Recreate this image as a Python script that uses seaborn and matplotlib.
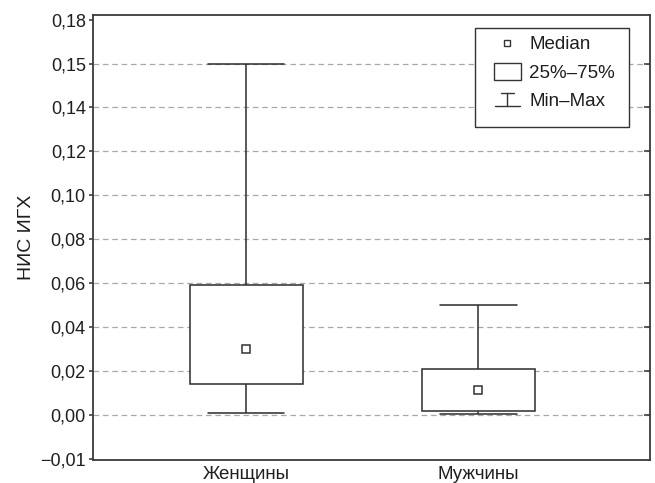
import numpy as np
import pandas as pd
import matplotlib
matplotlib.use("Agg")
import matplotlib.pyplot as plt
import seaborn as sns
from matplotlib.lines import Line2D
from matplotlib.patches import Rectangle
from matplotlib.legend_handler import HandlerBase

# Five-number summaries per group
groups = ["Женщины", "Мужчины"]
v_min = [0.001, 0.0005]
q1 = [0.014, 0.002]
median = [0.030, 0.0114]
q3 = [0.059, 0.021]
v_max = [0.150, 0.050]

# Y axis ticks (the axis is stretched between the labelled values)
tick_values = [-0.01, 0.00, 0.02, 0.04, 0.06, 0.08, 0.10, 0.12, 0.14, 0.15, 0.18]
tick_labels = ["\u22120,01", "0,00", "0,02", "0,04", "0,06", "0,08",
               "0,10", "0,12", "0,14", "0,15", "0,18"]
y_label = "НИС ИГХ"
legend_labels = ["Median", "25%\u201375%", "Min\u2013Max"]

INK = "#333333"
TEXT = "#1e1e1e"
GRID = "#a8a8a8"

sns.set_theme(style="white")
plt.rcParams["font.family"] = ["Liberation Sans", "DejaVu Sans"]

# piecewise-linear axis as printed
_val = [-1.0, -0.01, 0.00, 0.14, 0.15, 0.18, 1.0]
_pos = [-1.01, -0.02, 0.00, 0.14, 0.16, 0.18, 1.0]


def fwd(v):
    return np.interp(v, _val, _pos)


def inv(p):
    return np.interp(p, _pos, _val)


rows = []
for i, g in enumerate(groups):
    for v in (v_min[i], q1[i], median[i], q3[i], v_max[i]):
        rows.append({"group": g, "value": v})
df = pd.DataFrame(rows)
med_df = pd.DataFrame({"group": groups, "value": median})

fig = plt.figure(figsize=(6.55, 4.83), dpi=100)
ax = fig.add_axes([93 / 655, 23 / 483, 557 / 655, 445 / 483])

sns.boxplot(data=df, x="group", y="value", order=groups, ax=ax,
            whis=(0, 100), width=0.487, color="white", saturation=1,
            linecolor=INK, linewidth=1.15, capwidths=0.33,
            medianprops={"linewidth": 0}, zorder=2)
sns.pointplot(data=med_df, x="group", y="value", order=groups, ax=ax,
              linestyle="none", marker="s", markersize=5.5,
              markerfacecolor="white", markeredgecolor=INK,
              markeredgewidth=1.1, color=INK, errorbar=None, zorder=4)

ax.set_yscale("function", functions=(fwd, inv))
ylim = (-0.01045, 0.1821)
ax.set_ylim(*ylim)
ax.set_xlim(-0.66, 1.74)
ax.set_yticks(tick_values)
ax.set_yticklabels(tick_labels)
ax.set_xlabel("")
ax.set_ylabel(y_label, fontsize=14, color=TEXT)
ax.yaxis.set_label_coords(-0.104, 0.5)

for v in tick_values[1:-1]:
    ax.axhline(v, color=GRID, linewidth=0.9, linestyle=(0, (4.5, 3)), zorder=0)

ax.tick_params(axis="y", which="major", left=True, right=False, direction="out",
               length=3, width=1.1, color=INK, pad=2.2, labelsize=13,
               labelcolor=TEXT)
ax.tick_params(axis="x", length=0, pad=4, labelsize=13.5, labelcolor=TEXT)
for s in ax.spines.values():
    s.set_visible(True)
    s.set_color("#3a3a3a")
    s.set_linewidth(1.3)

# inward ticks on the right edge
ax2 = ax.twinx()
ax2.set_yscale("function", functions=(fwd, inv))
ax2.set_ylim(*ylim)
ax2.set_yticks(tick_values[1:-1])
ax2.tick_params(axis="y", direction="in", length=4.3, width=1.1, color=INK,
                labelright=False)
for s in ax2.spines.values():
    s.set_visible(False)

# legend
PX = 0.72  # points per pixel


class MedianHandler(HandlerBase):
    def create_artists(self, legend, orig, xd, yd, w, h, fs, trans):
        m = Line2D([w - 13.5 * PX], [h / 2], marker="s", markersize=4.3,
                   markerfacecolor="white", markeredgecolor=INK,
                   markeredgewidth=1.0, linestyle="none", transform=trans)
        return [m]


class BoxHandler(HandlerBase):
    def create_artists(self, legend, orig, xd, yd, w, h, fs, trans):
        bw, bh = 27 * PX, 17 * PX
        cx = w - 13.5 * PX
        r = Rectangle((cx - bw / 2, h / 2 - bh / 2), bw, bh, facecolor="white",
                      edgecolor=INK, linewidth=1.0, transform=trans)
        return [r]


class RangeHandler(HandlerBase):
    def create_artists(self, legend, orig, xd, yd, w, h, fs, trans):
        cx = w - 13.5 * PX
        half = 6.5 * PX
        lo, hi = h / 2 - half, h / 2 + half
        bot = Line2D([cx - 12 * PX, cx + 12 * PX], [lo, lo], color=INK,
                     linewidth=1.0, transform=trans)
        top = Line2D([cx - 6.5 * PX, cx + 6.5 * PX], [hi, hi], color=INK,
                     linewidth=1.0, transform=trans)
        stem = Line2D([cx, cx], [lo, hi], color=INK, linewidth=1.0,
                      transform=trans)
        return [bot, top, stem]


class _H:
    pass


h_med, h_box, h_rng = _H(), _H(), _H()
fx0, fx1 = (475 - 93) / 557, (629 - 93) / 557
fy0, fy1 = (460 - 127) / 445, (460 - 28) / 445
ax2.add_patch(Rectangle((fx0, fy0), fx1 - fx0, fy1 - fy0, transform=ax2.transAxes,
                        facecolor="white", edgecolor=INK, linewidth=1.0,
                        zorder=5))
LFS = 13.5
BPAD = 0.44
leg = ax2.legend([h_med, h_box, h_rng], legend_labels,
                 handler_map={h_med: MedianHandler(), h_box: BoxHandler(),
                              h_rng: RangeHandler()},
                 loc="upper left", bbox_to_anchor=(fx0, fy1),
                 bbox_transform=ax2.transAxes, frameon=False,
                 borderpad=BPAD, borderaxespad=0,
                 handlelength=(46 * PX - BPAD * LFS) / LFS,
                 handletextpad=0.45, labelspacing=0.6, fontsize=LFS)
for t in leg.get_texts():
    t.set_color(TEXT)
leg.set_zorder(6)

fig.savefig("out.png", dpi=100)
